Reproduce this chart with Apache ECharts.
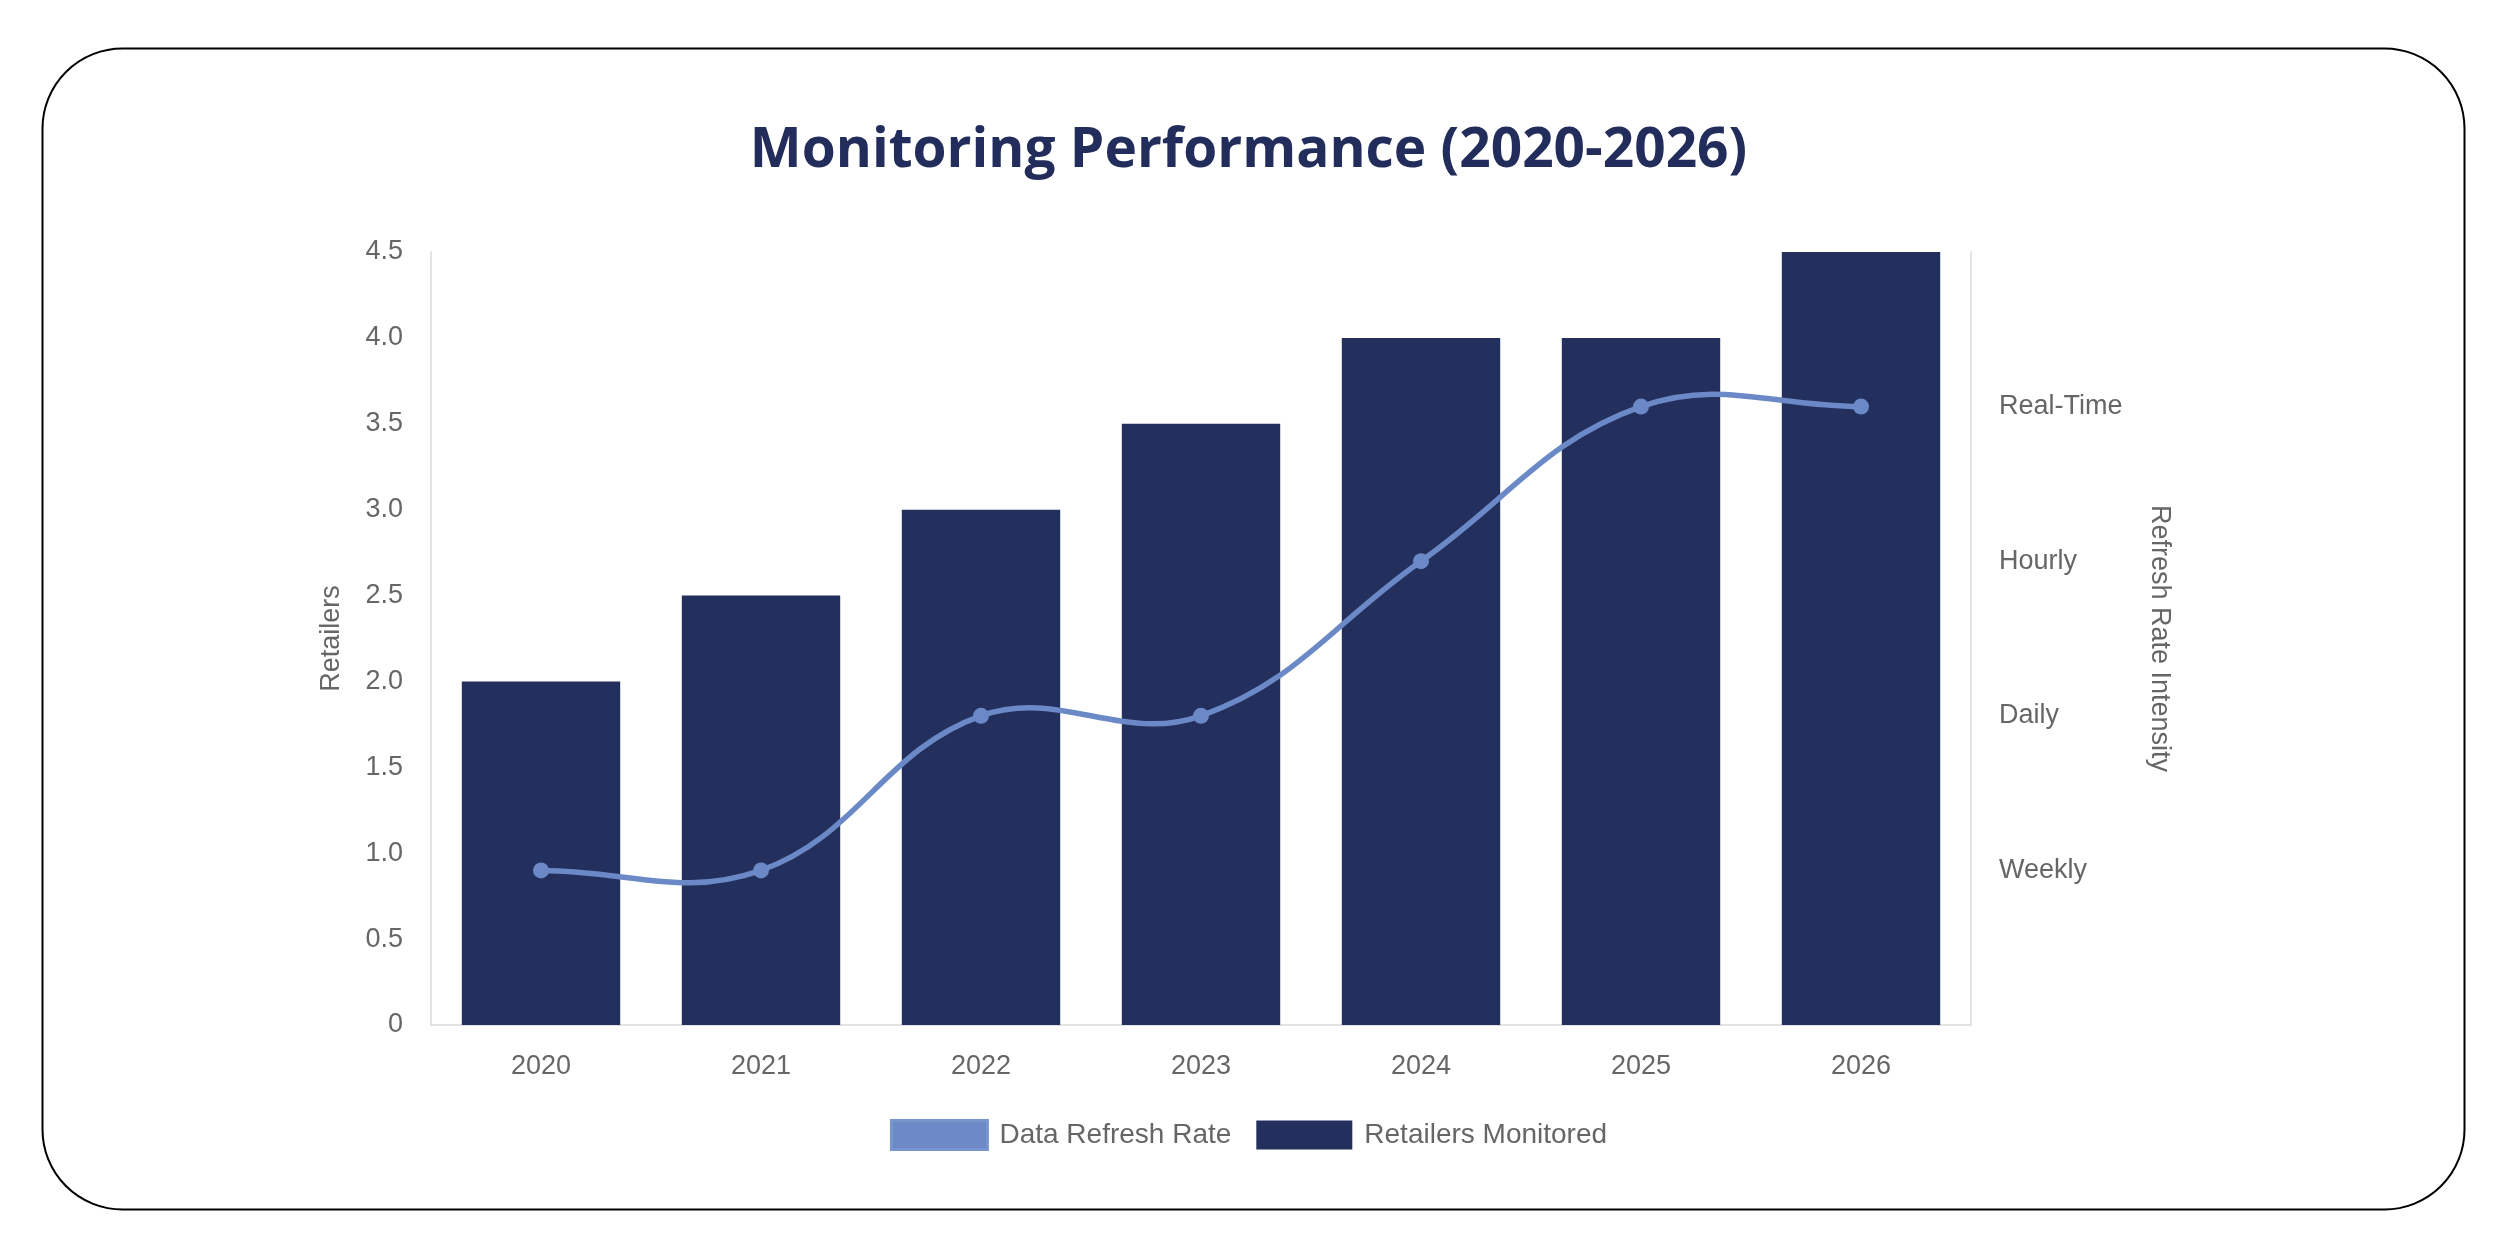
<!DOCTYPE html>
<html>
<head>
<meta charset="utf-8">
<script src="https://cdn.jsdelivr.net/npm/echarts@6/dist/echarts.min.js"></script>
<style>
  html, body { margin: 0; padding: 0; background: #fff; }
  #main { width: 2497px; height: 1240px; }
</style>
</head>
<body>
<div id="main"></div>
<script>
var years = ['2020', '2021', '2022', '2023', '2024', '2025', '2026'];
var retailers = [2, 2.5, 3, 3.5, 4, 4, 4.5];
var refreshRate = [1, 1, 2, 2, 3, 4, 4];
var refreshLevels = ['', 'Weekly', 'Daily', 'Hourly', 'Real-Time', ''];

var labelFont = 'Liberation Sans, Arial, sans-serif';
var lineColor = '#6a89c6';
var barColor = '#232f5c';
var tension = 0.4;

var myChart = echarts.init(document.getElementById('main'));

// cubic curve through the points (same idea as a tension spline), drawn once
function renderCurve(params, api) {
    if (params.dataIndex !== 0) return;
    var pts = refreshRate.map(function (v, i) { return api.coord([i, v]); });
    var n = pts.length;
    var cps = [];
    for (var i = 0; i < n; i++) {
        var prev = pts[Math.max(i - 1, 0)];
        var cur = pts[i];
        var next = pts[Math.min(i + 1, n - 1)];
        var d01 = Math.hypot(cur[0] - prev[0], cur[1] - prev[1]);
        var d12 = Math.hypot(next[0] - cur[0], next[1] - cur[1]);
        var s01 = d01 / (d01 + d12 || 1);
        var s12 = d12 / (d01 + d12 || 1);
        var fa = tension * s01, fb = tension * s12;
        cps.push({
            before: [cur[0] - fa * (next[0] - prev[0]), cur[1] - fa * (next[1] - prev[1])],
            after: [cur[0] + fb * (next[0] - prev[0]), cur[1] + fb * (next[1] - prev[1])]
        });
    }
    var d = 'M' + pts[0][0] + ' ' + pts[0][1];
    for (var j = 1; j < n; j++) {
        var a = cps[j - 1].after, b = cps[j].before;
        d += ' C' + a[0] + ' ' + a[1] + ' ' + b[0] + ' ' + b[1] + ' ' + pts[j][0] + ' ' + pts[j][1];
    }
    return {
        type: 'path',
        shape: { pathData: d },
        style: { fill: 'none', stroke: lineColor, lineWidth: 5.5 },
        silent: true
    };
}

var option = {
    backgroundColor: '#fff',
    title: {
        text: 'Monitoring Performance (2020-2026)',
        left: 'center',
        top: 119,
        textStyle: {
            fontFamily: 'Open Sans',
            fontWeight: 'bold',
            fontSize: 55,
            color: '#222d5c'
        }
    },
    graphic: [{
        type: 'rect',
        left: 40,
        top: 46,
        shape: { width: 2422, height: 1161, r: 80 },
        style: { fill: 'none', stroke: '#000', lineWidth: 2 },
        silent: true
    }],
    legend: {
        left: 'center',
        top: 1114,
        itemWidth: 96,
        itemHeight: 29,
        itemGap: 25,
        textStyle: { fontFamily: labelFont, fontSize: 28, color: '#666', padding: [0, 0, 0, 7] },
        data: [
            { name: 'Data Refresh Rate', icon: 'rect', itemStyle: { color: lineColor, borderColor: '#7895cd', borderWidth: 3 } },
            { name: 'Retailers Monitored', icon: 'rect' }
        ]
    },
    grid: {
        left: 431,
        right: 526,
        top: 252,
        bottom: 215
    },
    xAxis: {
        type: 'category',
        data: years,
        axisLine: { lineStyle: { color: '#e3e3e3', width: 2 } },
        axisTick: { show: false },
        axisLabel: { margin: 28, fontFamily: labelFont, fontSize: 27, color: '#666' }
    },
    yAxis: [
        {
            type: 'value',
            min: 0,
            max: 4.5,
            interval: 0.5,
            name: 'Retailers',
            nameLocation: 'middle',
            nameRotate: 90,
            nameGap: 86,
            nameTextStyle: { fontFamily: labelFont, fontSize: 27, color: '#666' },
            axisLine: { show: true, lineStyle: { color: '#e3e3e3', width: 2 } },
            axisTick: { show: false },
            splitLine: { show: false },
            axisLabel: {
                margin: 28, fontFamily: labelFont, fontSize: 27, color: '#666',
                formatter: function (v) { return v === 0 ? '0' : v.toFixed(1); }
            }
        },
        {
            type: 'value',
            position: 'right',
            min: 0,
            max: 5,
            interval: 1,
            name: 'Refresh Rate Intensity',
            nameLocation: 'middle',
            nameRotate: -90,
            nameGap: 175,
            nameTextStyle: { fontFamily: labelFont, fontSize: 27, color: '#666' },
            axisLine: { show: true, lineStyle: { color: '#e3e3e3', width: 2 } },
            axisTick: { show: false },
            splitLine: { show: false },
            axisLabel: {
                margin: 28, fontFamily: labelFont, fontSize: 27, color: '#666',
                formatter: function (v) { return refreshLevels[v] || ''; }
            }
        }
    ],
    series: [
        {
            name: 'Retailers Monitored',
            type: 'bar',
            yAxisIndex: 0,
            barCategoryGap: '28%',
            itemStyle: { color: barColor },
            data: retailers
        },
        {
            name: 'Data Refresh Rate',
            type: 'custom',
            yAxisIndex: 1,
            renderItem: renderCurve,
            itemStyle: { color: lineColor },
            data: refreshRate,
            z: 3
        },
        {
            name: 'Data Refresh Rate',
            type: 'line',
            yAxisIndex: 1,
            symbol: 'circle',
            symbolSize: 16,
            lineStyle: { opacity: 0 },
            itemStyle: { color: lineColor },
            data: refreshRate,
            z: 4
        }
    ]
};

myChart.setOption(option);
</script>
</body>
</html>
